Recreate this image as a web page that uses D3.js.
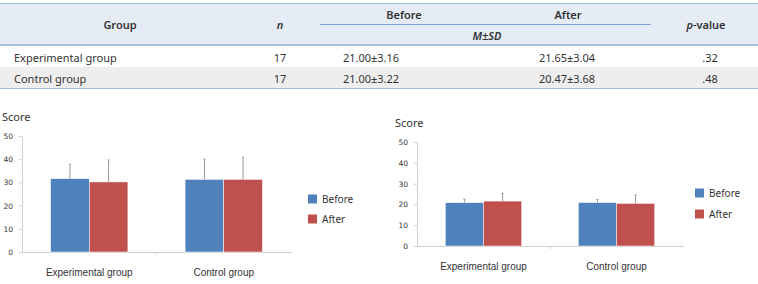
<!DOCTYPE html>
<html>
<head>
<meta charset="utf-8">
<title>Score chart</title>
<script src="https://cdn.jsdelivr.net/npm/d3@7/dist/d3.min.js"></script>
<style>
  body { margin: 0; background: #fff; }
  svg { font-family: "Noto Sans", "DejaVu Sans", sans-serif; }
</style>
</head>
<body>
<svg id="svg" width="758" height="284"></svg>
<script>
// table data
var tableGroups = ["Experimental group", "Control group"];
var tableN = ["17", "17"];
var tableBefore = ["21.00\u00b13.16", "21.00\u00b13.22"];
var tableAfter = ["21.65\u00b13.04", "20.47\u00b13.68"];
var tableP = [".32", ".48"];

// chart data
var categories = ["Experimental group", "Control group"];
var seriesNames = ["Before", "After"];
var colors = ["#4f81bd", "#c0504d"];
var leftBefore = [31.6, 31.3];
var leftAfter = [30.2, 31.3];
var leftBeforeErr = [6.2, 8.7];
var leftAfterErr = [9.5, 9.5];
var rightBefore = [20.8, 20.9];
var rightAfter = [21.6, 20.5];
var rightBeforeErr = [1.7, 1.5];
var rightAfterErr = [3.7, 4.0];
var yTicks = [0, 10, 20, 30, 40, 50];

var svg = d3.select("#svg");

// ---- table ----
var tbl = svg.append("g");
tbl.append("rect").attr("x", 0).attr("y", 3).attr("width", 758).attr("height", 42).attr("fill", "#e5ecf6");
tbl.append("rect").attr("x", 0).attr("y", 67).attr("width", 758).attr("height", 21).attr("fill", "#eeeeee");
tbl.append("line").attr("x1", 0).attr("x2", 758).attr("y1", 3.5).attr("y2", 3.5).attr("stroke", "#9fbadf").attr("stroke-width", 1);
tbl.append("line").attr("x1", 320).attr("x2", 651).attr("y1", 24.5).attr("y2", 24.5).attr("stroke", "#7fa3d3").attr("stroke-width", 1);
tbl.append("line").attr("x1", 0).attr("x2", 758).attr("y1", 45).attr("y2", 45).attr("stroke", "#8eaedb").attr("stroke-width", 1.5);
tbl.append("line").attr("x1", 0).attr("x2", 758).attr("y1", 88.5).attr("y2", 88.5).attr("stroke", "#9fbadf").attr("stroke-width", 1);

function htext(x, y, t, italic) {
  var el = tbl.append("text").attr("x", x).attr("y", y).attr("text-anchor", "middle")
    .attr("dominant-baseline", "central").attr("font-size", "11px").attr("font-weight", "600")
    .attr("fill", "#333").text(t);
  if (italic) el.attr("font-style", "italic");
  return el;
}
htext(120, 24, "Group");
htext(280, 24, "n", true);
htext(404, 14, "Before");
htext(568, 14, "After");
htext(487, 35, "M\u00b1SD", true);
var pv = htext(706, 24, "");
pv.append("tspan").attr("font-style", "italic").text("p");
pv.append("tspan").text("-value");

var rowY = [57, 78];
tableGroups.forEach(function (g, i) {
  var y = rowY[i];
  function cell(x, t, anchor) {
    tbl.append("text").attr("x", x).attr("y", y).attr("text-anchor", anchor || "middle")
      .attr("dominant-baseline", "central").attr("font-size", "11px").attr("fill", "#333").text(t);
  }
  cell(14, g, "start");
  cell(280, tableN[i]);
  cell(371, tableBefore[i]);
  cell(567, tableAfter[i]);
  cell(710, tableP[i]);
});

// ---- bar charts ----
function drawChart(opt) {
  var g = svg.append("g");
  var y = d3.scaleLinear().domain([0, 50]).range([opt.y0, opt.y1]);
  var x0 = d3.scaleBand().domain(categories).range([opt.x0, opt.x1]).paddingInner(0).paddingOuter(0);
  var x1 = d3.scaleBand().domain(seriesNames).range([0, x0.bandwidth()]).paddingInner(0).paddingOuter(0.74);

  g.append("text").attr("x", opt.scoreX).attr("y", opt.scoreY).attr("font-size", "11px")
    .attr("fill", "#333").attr("dominant-baseline", "central").text("Score");

  // y axis
  var ya = g.append("g").attr("transform", "translate(" + opt.x0 + ",0)")
    .call(d3.axisLeft(y).tickValues(yTicks).tickSize(3).tickPadding(6));
  ya.select(".domain").attr("stroke", "#d0d0d0");
  ya.selectAll(".tick line").attr("stroke", "#d0d0d0");
  ya.selectAll("text").attr("font-size", "7.5px").attr("fill", "#333")
    .attr("font-family", "DejaVu Sans, sans-serif");

  // x axis
  var xa = g.append("g").attr("transform", "translate(0," + opt.y0 + ")")
    .call(d3.axisBottom(x0).tickSize(0).tickPadding(opt.labelPad));
  xa.select(".domain").attr("stroke", "#d0d0d0");
  xa.selectAll("text").attr("font-size", "10px").attr("fill", "#333");
  // category separator ticks
  xa.selectAll(".sep").data(categories.slice(1)).enter().append("line")
    .attr("x1", function (d) { return x0(d); }).attr("x2", function (d) { return x0(d); })
    .attr("y1", 0).attr("y2", 3).attr("stroke", "#d0d0d0");

  var rows = [];
  categories.forEach(function (c, i) {
    rows.push({ cat: c, s: 0, v: opt.before[i], e: opt.beforeErr[i] });
    rows.push({ cat: c, s: 1, v: opt.after[i], e: opt.afterErr[i] });
  });

  g.selectAll(".bar").data(rows).enter().append("rect")
    .attr("class", "bar")
    .attr("x", function (d) { return x0(d.cat) + x1(seriesNames[d.s]); })
    .attr("width", x1.bandwidth())
    .attr("y", function (d) { return y(d.v); })
    .attr("height", function (d) { return y(0) - y(d.v); })
    .attr("fill", function (d) { return colors[d.s]; })
    .attr("stroke", "#fff").attr("stroke-width", 0.5);

  var cx = function (d) { return x0(d.cat) + x1(seriesNames[d.s]) + x1.bandwidth() / 2; };
  g.selectAll(".err").data(rows).enter().append("line")
    .attr("x1", cx).attr("x2", cx)
    .attr("y1", function (d) { return y(d.v); })
    .attr("y2", function (d) { return y(d.v + d.e); })
    .attr("stroke", "#999").attr("stroke-width", 1);
  g.selectAll(".cap").data(rows).enter().append("line")
    .attr("x1", function (d) { return cx(d) - 1; }).attr("x2", function (d) { return cx(d) + 1; })
    .attr("y1", function (d) { return y(d.v + d.e); })
    .attr("y2", function (d) { return y(d.v + d.e); })
    .attr("stroke", "#999").attr("stroke-width", 1);

  // legend
  var lg = g.selectAll(".lg").data(seriesNames).enter().append("g")
    .attr("transform", function (d, i) { return "translate(" + opt.legX + "," + (opt.legY + i * opt.legGap) + ")"; });
  lg.append("rect").attr("x", 0).attr("y", -4.5).attr("width", 9).attr("height", 9)
    .attr("fill", function (d, i) { return colors[i]; });
  lg.append("text").attr("x", 14).attr("y", 0).attr("dominant-baseline", "central")
    .attr("font-size", "10px").attr("fill", "#333").text(function (d) { return d; });
}

drawChart({
  x0: 22, x1: 291, y0: 252, y1: 136, labelPad: 17,
  scoreX: 2, scoreY: 116,
  before: leftBefore, after: leftAfter, beforeErr: leftBeforeErr, afterErr: leftAfterErr,
  legX: 308, legY: 199, legGap: 20
});

drawChart({
  x0: 417, x1: 683, y0: 246, y1: 142, labelPad: 17,
  scoreX: 395, scoreY: 122,
  before: rightBefore, after: rightAfter, beforeErr: rightBeforeErr, afterErr: rightAfterErr,
  legX: 695, legY: 193, legGap: 21
});
</script>
</body>
</html>
